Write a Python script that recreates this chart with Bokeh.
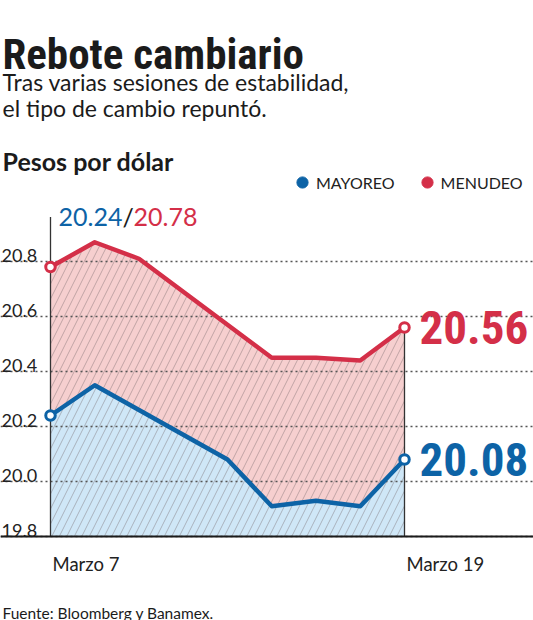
from bokeh.plotting import figure
from bokeh.models import Range1d, Legend, LegendItem, Span
from bokeh.core.properties import value
from bokeh.embed import file_html
from bokeh.resources import INLINE

# ---------------- data ----------------
dates = ["Mar 7", "Mar 8", "Mar 11", "Mar 12", "Mar 13", "Mar 14", "Mar 15", "Mar 18", "Mar 19"]
mayoreo = [20.24, 20.35, 20.26, 20.17, 20.08, 19.91, 19.93, 19.91, 20.08]
menudeo = [20.78, 20.87, 20.81, 20.69, 20.57, 20.45, 20.45, 20.44, 20.56]
y_ticks = [19.8, 20.0, 20.2, 20.4, 20.6, 20.8]
y_tick_labels = ["19.8", "20.0", "20.2", "20.4", "20.6", "20.8"]
x_tick_idx = [0, 8]
x_tick_labels = ["Marzo 7", "Marzo 19"]
series_names = ["MAYOREO", "MENUDEO"]
title = "Rebote cambiario"
subtitle = ["Tras varias sesiones de estabilidad,", "el tipo de cambio repuntó."]
unit_label = "Pesos por dólar"
source = "Fuente: Bloomberg y Banamex."

# ---------------- style ----------------
W, H = 533, 620
RED = "#d42f48"
BLUE = "#0d63a6"
PINK = "#f6cfcf"
LIGHTBLUE = "#cfe7f7"
HATCH = "#6e6264"
DARK = "#1b1b1b"
SANS = "Lato"
NARROW = "Roboto Condensed"

x_first_px = 50.0     # canvas px of first session
x_step_px = 44.25     # px between sessions
y_ref_val = 20.8
y_ref_px = 261.0      # canvas px (from top) of 20.8
px_per_unit = 275.0

x = list(range(len(dates)))
base = y_ticks[0]
x_start = -x_first_px / x_step_px

p = figure(width=W, height=H, output_backend="svg", toolbar_location=None,
           x_range=Range1d(x_start, (W - x_first_px) / x_step_px),
           y_range=Range1d(y_ref_val - (H - y_ref_px) / px_per_unit, y_ref_val + y_ref_px / px_per_unit),
           x_axis_type=None, y_axis_type=None, title=None, min_border=0,
           outline_line_color=None, background_fill_color="white", border_fill_color="white")


def xd(px):
    return x_start + px / x_step_px


def yd(py):
    return y_ref_val + (y_ref_px - py) / px_per_unit


# areas
for vals, col in ((menudeo, PINK), (mayoreo, LIGHTBLUE)):
    p.varea(x=x, y1=base, y2=vals, fill_color=col, hatch_pattern="/", hatch_color=HATCH,
            hatch_alpha=0.5, hatch_scale=15, hatch_weight=0.8)

# dotted grid lines
p.segment(x0=p.x_range.start, x1=p.x_range.end, y0=y_ticks, y1=y_ticks,
          line_dash="2 3", line_color="#555555", line_width=1.3)

# y tick labels above their grid line
p.text(x=p.x_range.start, y=y_ticks, text=y_tick_labels, text_font=value(SANS),
       text_font_size="18px", text_color="#222222", text_baseline="alphabetic",
       x_offset=1, y_offset=-6)

# leader lines
leader_top = menudeo[0] + 50 / px_per_unit
p.segment(x0=[x[0], x[-1]], x1=[x[0], x[-1]], y0=base, y1=[leader_top, menudeo[-1]],
          line_color="#333333", line_width=1.3)

# baseline
p.add_layout(Span(location=base, dimension="width", line_color=DARK, line_width=2))

# lines
p.line(x, mayoreo, line_color=BLUE, line_width=4.5, line_join="round")
p.line(x, menudeo, line_color=RED, line_width=4.5, line_join="round")

# end markers
ends = [0, len(x) - 1]
for vals, col in ((mayoreo, BLUE), (menudeo, RED)):
    p.scatter([x[i] for i in ends], [vals[i] for i in ends], size=9.5, fill_color="white",
              line_color=col, line_width=3)

# big end values
p.text(x=[x[-1], x[-1]], y=[menudeo[-1], mayoreo[-1]],
       text=[f"{menudeo[-1]:.2f}", f"{mayoreo[-1]:.2f}"], text_color=[RED, BLUE],
       text_font=value(NARROW), text_font_style="bold", text_font_size="47px",
       text_baseline="alphabetic", x_offset=15)

# start values label
common = dict(text_font=value(SANS), text_font_size="25px", text_baseline="alphabetic")
p.text(x=x[0], y=leader_top, text=[f"{mayoreo[0]:.2f}"], text_color=BLUE, text_align="right",
       x_offset=72, **common)
p.text(x=x[0], y=leader_top, text=["/"], text_color=DARK, x_offset=72, **common)
p.text(x=x[0], y=leader_top, text=[f"{menudeo[0]:.2f}"], text_color=RED, x_offset=83, **common)

# x tick labels
p.text(x=[x[i] for i in x_tick_idx], y=base, text=x_tick_labels, text_font=value(SANS),
       text_font_size="18.5px", text_color="#222222", text_baseline="alphabetic",
       x_offset=2, y_offset=27)

# legend
nan = float("nan")
d_blue = p.scatter([nan], [nan], size=11, fill_color=BLUE, line_color=BLUE)
d_red = p.scatter([nan], [nan], size=11, fill_color=RED, line_color=RED)
legend = Legend(items=[LegendItem(label=series_names[0], renderers=[d_blue]),
                       LegendItem(label=series_names[1], renderers=[d_red])],
                orientation="horizontal", location=(288, H - 196), padding=0, margin=0,
                glyph_width=28, glyph_height=28, label_standoff=0, spacing=18,
                label_text_font=SANS, label_text_font_size="16px", label_text_color="#222222",
                border_line_color=None, background_fill_alpha=0)
p.add_layout(legend)

# headings and source
p.text(x=xd(2), y=yd(53), text=[title], text_font=value(NARROW), text_font_style="bold",
       text_font_size="43px", text_color=DARK, text_baseline="alphabetic")
p.text(x=xd(2), y=[yd(81), yd(107)], text=subtitle, text_font=value(SANS),
       text_font_size="23px", text_color=DARK, text_baseline="alphabetic")
p.text(x=xd(2), y=yd(160), text=[unit_label], text_font=value(SANS), text_font_style="bold",
       text_font_size="25px", text_color=DARK, text_baseline="alphabetic")
p.text(x=xd(2), y=yd(612), text=[source], text_font=value(SANS),
       text_font_size="15.5px", text_color=DARK, text_baseline="alphabetic")

open("out.html", "w").write(file_html(p, INLINE))
